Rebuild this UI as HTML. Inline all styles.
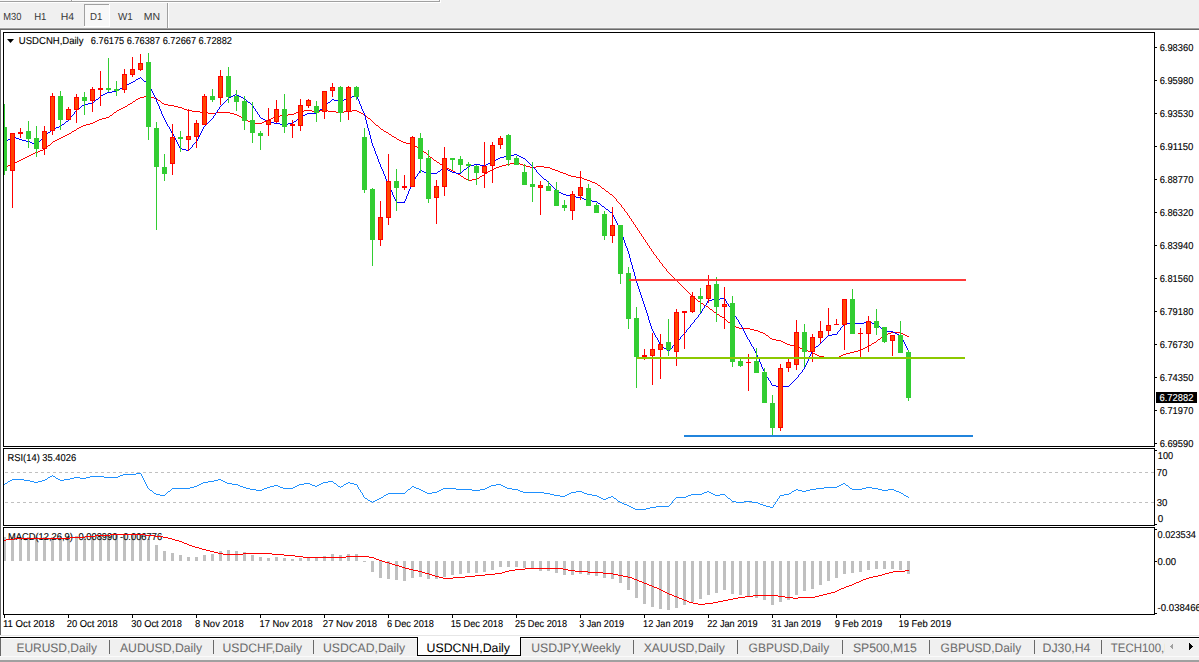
<!DOCTYPE html><html><head><meta charset="utf-8"><title>USDCNH,Daily</title><style>html,body{margin:0;padding:0;width:1199px;height:662px;overflow:hidden;background:#f0f0f0}svg{display:block}text{font-family:"Liberation Sans",sans-serif}</style></head><body><svg width="1199" height="662" viewBox="0 0 1199 662" font-family="Liberation Sans, sans-serif" text-rendering="geometricPrecision"><defs><clipPath id="cm"><rect x="4" y="33" width="1150" height="413"/></clipPath><clipPath id="cr"><rect x="4" y="449" width="1150" height="76"/></clipPath><clipPath id="cd"><rect x="4" y="528" width="1150" height="86"/></clipPath><clipPath id="tclip"><rect x="1100" y="630" width="64.5" height="30"/></clipPath></defs><g shape-rendering="crispEdges"><rect x="0" y="0" width="1199" height="662" fill="#f0f0f0"/><rect x="0" y="0" width="439" height="1" fill="#f8f8f8"/><rect x="0" y="1" width="440" height="1" fill="#a0a0a0"/><rect x="439" y="0" width="1" height="2" fill="#a0a0a0"/><rect x="0" y="2" width="441" height="1" fill="#ffffff"/><rect x="440" y="0" width="1" height="3" fill="#ffffff"/><rect x="71" y="0" width="1" height="1" fill="#a0a0a0"/><rect x="72" y="0" width="1" height="1" fill="#ffffff"/><rect x="0" y="27" width="1199" height="1" fill="#f4f4f4"/><rect x="84" y="4" width="25" height="22" fill="#f8f8f8"/><rect x="84" y="4" width="25" height="1" fill="#a0a0a0"/><rect x="84" y="4" width="1" height="22" fill="#a0a0a0"/><rect x="84" y="26" width="26" height="1" fill="#ffffff"/><rect x="109" y="4" width="1" height="23" fill="#ffffff"/><rect x="167" y="3" width="1" height="25" fill="#a0a0a0"/><rect x="168" y="3" width="1" height="25" fill="#ffffff"/><rect x="0" y="28" width="1199" height="1" fill="#a0a0a0"/><rect x="0" y="29" width="1199" height="1" fill="#696969"/><rect x="1" y="30" width="1198" height="605" fill="#ffffff"/><rect x="0" y="29" width="1" height="606" fill="#696969"/><rect x="3" y="32" width="1152" height="1" fill="#000000"/><rect x="3" y="446" width="1152" height="1" fill="#000000"/><rect x="3" y="32" width="1" height="415" fill="#000000"/><rect x="1154" y="32" width="1" height="415" fill="#000000"/><rect x="3" y="448" width="1152" height="1" fill="#000000"/><rect x="3" y="525" width="1152" height="1" fill="#000000"/><rect x="3" y="448" width="1" height="78" fill="#000000"/><rect x="1154" y="448" width="1" height="78" fill="#000000"/><rect x="3" y="527" width="1152" height="1" fill="#000000"/><rect x="3" y="614" width="1152" height="1" fill="#000000"/><rect x="3" y="527" width="1" height="88" fill="#000000"/><rect x="1154" y="527" width="1" height="88" fill="#000000"/><rect x="1155" y="47" width="2" height="1" fill="#000000"/><rect x="1155" y="80" width="2" height="1" fill="#000000"/><rect x="1155" y="113" width="2" height="1" fill="#000000"/><rect x="1155" y="146" width="2" height="1" fill="#000000"/><rect x="1155" y="179" width="2" height="1" fill="#000000"/><rect x="1155" y="212" width="2" height="1" fill="#000000"/><rect x="1155" y="245" width="2" height="1" fill="#000000"/><rect x="1155" y="278" width="2" height="1" fill="#000000"/><rect x="1155" y="311" width="2" height="1" fill="#000000"/><rect x="1155" y="344" width="2" height="1" fill="#000000"/><rect x="1155" y="377" width="2" height="1" fill="#000000"/><rect x="1155" y="410" width="2" height="1" fill="#000000"/><rect x="1155" y="443" width="2" height="1" fill="#000000"/><rect x="1156" y="392" width="41" height="11" fill="#000000"/><rect x="1155" y="450" width="2" height="1" fill="#000000"/><rect x="1155" y="524" width="2" height="1" fill="#000000"/><rect x="1155" y="529" width="2" height="1" fill="#000000"/><rect x="1155" y="561" width="2" height="1" fill="#000000"/><rect x="1155" y="613" width="2" height="1" fill="#000000"/><rect x="4" y="615" width="1" height="3" fill="#000000"/><rect x="68" y="615" width="1" height="3" fill="#000000"/><rect x="132" y="615" width="1" height="3" fill="#000000"/><rect x="196" y="615" width="1" height="3" fill="#000000"/><rect x="260" y="615" width="1" height="3" fill="#000000"/><rect x="324" y="615" width="1" height="3" fill="#000000"/><rect x="388" y="615" width="1" height="3" fill="#000000"/><rect x="452" y="615" width="1" height="3" fill="#000000"/><rect x="516" y="615" width="1" height="3" fill="#000000"/><rect x="580" y="615" width="1" height="3" fill="#000000"/><rect x="644" y="615" width="1" height="3" fill="#000000"/><rect x="708" y="615" width="1" height="3" fill="#000000"/><rect x="772" y="615" width="1" height="3" fill="#000000"/><rect x="836" y="615" width="1" height="3" fill="#000000"/><rect x="900" y="615" width="1" height="3" fill="#000000"/></g><g clip-path="url(#cm)" shape-rendering="crispEdges"><path d="M787 344h3v1h-3zM208 113h8v1h-8zM230 113h4v1h-4zM294 113h2v1h-2zM361 113h2v1h-2zM447 168h2v1h-2zM494 168h2v1h-2zM550 168h2v1h-2zM192 111h8v1h-8zM299 111h5v1h-5zM312 111h8v1h-8zM328 111h8v1h-8zM344 111h8v1h-8zM357 111h2v1h-2zM11 164h2v1h-2zM440 164h2v1h-2zM506 164h4v1h-4zM520 164h3v1h-3zM770 338h2v1h-2zM785 343h2v1h-2zM872 343h2v1h-2zM114 112h2v1h-2zM200 112h8v1h-8zM216 112h14v1h-14zM296 112h3v1h-3zM336 112h8v1h-8zM359 112h2v1h-2zM451 170h2v1h-2zM490 170h2v1h-2zM555 170h3v1h-3zM77 128h2v1h-2zM102 118h4v1h-4zM243 118h2v1h-2zM271 118h2v1h-2zM368 118h2v1h-2zM466 179h2v1h-2zM472 179h5v1h-5zM584 179h3v1h-3zM610 194h2v1h-2zM234 114h3v1h-3zM288 114h6v1h-6zM363 114h2v1h-2zM121 108h2v1h-2zM182 108h2v1h-2zM35 152h3v1h-3zM424 152h2v1h-2zM817 355h2v1h-2zM841 355h2v1h-2zM800 348h3v1h-3zM863 348h2v1h-2zM97 120h2v1h-2zM267 120h2v1h-2zM482 175h2v1h-2zM568 175h3v1h-3zM57 139h2v1h-2zM397 139h2v1h-2zM790 345h4v1h-4zM869 345h2v1h-2zM239 116h2v1h-2zM275 116h5v1h-5zM763 333h2v1h-2zM888 333h3v1h-3zM901 333h2v1h-2zM783 342h2v1h-2zM874 342h2v1h-2zM6 166h2v1h-2zM499 166h3v1h-3zM526 166h4v1h-4zM536 166h8v1h-8zM704 305h2v1h-2zM117 110h2v1h-2zM187 110h5v1h-5zM304 110h8v1h-8zM320 110h8v1h-8zM352 110h5v1h-5zM144 96h6v1h-6zM83 125h3v1h-3zM376 125h2v1h-2zM90 123h3v1h-3zM252 123h10v1h-10zM106 117h3v1h-3zM241 117h2v1h-2zM273 117h2v1h-2zM806 350h2v1h-2zM858 350h3v1h-3zM381 129h2v1h-2zM140 97h4v1h-4zM150 97h4v1h-4zM53 141h2v1h-2zM401 141h2v1h-2zM67 134h2v1h-2zM389 134h2v1h-2zM776 340h5v1h-5zM13 163h2v1h-2zM510 163h4v1h-4zM518 163h2v1h-2zM760 332h3v1h-3zM891 332h10v1h-10zM701 303h2v1h-2zM720 316h2v1h-2zM136 99h2v1h-2zM794 346h4v1h-4zM867 346h2v1h-2zM110 115h2v1h-2zM237 115h2v1h-2zM280 115h8v1h-8zM461 176h2v1h-2zM480 176h2v1h-2zM571 176h5v1h-5zM406 143h4v1h-4zM739 328h11v1h-11zM824 357h8v1h-8zM837 357h2v1h-2zM4 167h2v1h-2zM445 167h2v1h-2zM496 167h3v1h-3zM530 167h6v1h-6zM544 167h6v1h-6zM8 165h3v1h-3zM442 165h2v1h-2zM502 165h4v1h-4zM523 165h3v1h-3zM55 140h2v1h-2zM399 140h2v1h-2zM99 119h3v1h-3zM245 119h2v1h-2zM269 119h2v1h-2zM15 162h2v1h-2zM437 162h2v1h-2zM514 162h4v1h-4zM798 347h2v1h-2zM865 347h2v1h-2zM19 160h2v1h-2zM434 160h2v1h-2zM886 334h2v1h-2zM903 334h2v1h-2zM63 136h2v1h-2zM392 136h2v1h-2zM138 98h2v1h-2zM154 98h3v1h-3zM772 339h4v1h-4zM878 339h2v1h-2zM61 137h2v1h-2zM394 137h2v1h-2zM128 104h2v1h-2zM164 104h4v1h-4zM813 353h2v1h-2zM846 353h4v1h-4zM449 169h2v1h-2zM492 169h2v1h-2zM552 169h3v1h-3zM606 191h2v1h-2zM43 149h2v1h-2zM72 131h2v1h-2zM384 131h2v1h-2zM576 177h6v1h-6zM133 101h2v1h-2zM808 351h3v1h-3zM854 351h4v1h-4zM403 142h3v1h-3zM81 126h2v1h-2zM468 180h4v1h-4zM587 180h3v1h-3zM125 106h2v1h-2zM174 106h4v1h-4zM832 358h5v1h-5zM766 335h2v1h-2zM884 335h2v1h-2zM905 335h2v1h-2zM722 317h2v1h-2zM734 326h2v1h-2zM714 312h2v1h-2zM33 153h2v1h-2zM168 105h6v1h-6zM95 121h2v1h-2zM248 121h2v1h-2zM264 121h3v1h-3zM803 349h3v1h-3zM861 349h2v1h-2zM815 354h2v1h-2zM843 354h3v1h-3zM882 336h2v1h-2zM907 336h2v1h-2zM458 174h2v1h-2zM566 174h2v1h-2zM59 138h2v1h-2zM415 146h2v1h-2zM464 178h2v1h-2zM477 178h2v1h-2zM582 178h2v1h-2zM453 171h2v1h-2zM488 171h2v1h-2zM558 171h2v1h-2zM93 122h2v1h-2zM250 122h2v1h-2zM262 122h2v1h-2zM25 157h2v1h-2zM430 157h2v1h-2zM386 132h2v1h-2zM811 352h2v1h-2zM850 352h4v1h-4zM419 148h2v1h-2zM410 144h3v1h-3zM819 356h5v1h-5zM839 356h2v1h-2zM69 133h2v1h-2zM48 145h2v1h-2zM413 145h2v1h-2zM123 107h2v1h-2zM178 107h4v1h-4zM728 322h2v1h-2zM750 329h4v1h-4zM456 173h2v1h-2zM485 173h2v1h-2zM563 173h3v1h-3zM710 309h2v1h-2zM74 130h2v1h-2zM119 109h2v1h-2zM184 109h3v1h-3zM65 135h2v1h-2zM595 183h2v1h-2zM754 330h4v1h-4zM31 154h2v1h-2zM781 341h2v1h-2zM130 103h2v1h-2zM162 103h2v1h-2zM758 331h2v1h-2zM40 150h3v1h-3zM592 182h3v1h-3zM706 306h2v1h-2zM158 100h2v1h-2zM27 156h2v1h-2zM23 158h2v1h-2zM417 147h2v1h-2zM17 161h2v1h-2zM698 301h2v1h-2zM717 314h2v1h-2zM736 327h3v1h-3zM732 325h2v1h-2zM86 124h4v1h-4zM694 298h2v1h-2zM38 151h2v1h-2zM602 188h2v1h-2zM29 155h2v1h-2zM598 185h2v1h-2zM590 181h2v1h-2zM560 172h3v1h-3zM21 159h2v1h-2zM79 127h2v1h-2zM880 338h1v1h-1zM621 205h1v2h-1zM881 337h1v1h-1zM479 177h1v1h-1zM630 218h1v1h-1zM161 102h1v1h-1zM647 243h1v2h-1zM380 128h1v1h-1zM669 273h1v1h-1zM373 122h1v1h-1zM730 323h1v1h-1zM635 225h1v2h-1zM247 120h1v1h-1zM631 219h1v2h-1zM616 199h1v2h-1zM652 251h1v1h-1zM871 344h1v1h-1zM634 224h1v1h-1zM692 296h1v1h-1zM674 278h1v1h-1zM622 207h1v1h-1zM460 175h1v1h-1zM639 231h1v2h-1zM444 166h1v1h-1zM47 146h1v1h-1zM112 114h1v1h-1zM374 123h1v1h-1zM656 256h1v2h-1zM670 274h1v1h-1zM731 324h1v1h-1zM724 318h1v1h-1zM657 258h1v1h-1zM432 158h1v1h-1zM666 269h1v2h-1zM370 119h1v1h-1zM700 302h1v1h-1zM624 209h1v2h-1zM375 124h1v1h-1zM712 310h1v1h-1zM116 111h1v1h-1zM644 239h1v1h-1zM609 193h1v1h-1zM719 315h1v1h-1zM76 129h1v1h-1zM619 203h1v1h-1zM713 311h1v1h-1zM628 215h1v1h-1zM645 240h1v2h-1zM433 159h1v1h-1zM648 245h1v1h-1zM769 337h1v1h-1zM672 276h1v1h-1zM633 222h1v2h-1zM650 248h1v1h-1zM673 277h1v1h-1zM659 260h1v2h-1zM653 252h1v2h-1zM372 121h1v1h-1zM427 154h1v1h-1zM365 115h1v1h-1zM668 272h1v1h-1zM383 130h1v1h-1zM620 204h1v1h-1zM597 184h1v1h-1zM629 216h1v2h-1zM637 228h1v2h-1zM604 189h1v1h-1zM615 198h1v1h-1zM651 249h1v2h-1zM617 201h1v1h-1zM428 155h1v1h-1zM679 283h1v1h-1zM696 299h1v1h-1zM51 143h1v1h-1zM643 237h1v2h-1zM52 142h1v1h-1zM765 334h1v1h-1zM675 279h1v1h-1zM703 304h1v1h-1zM367 117h1v1h-1zM768 336h1v1h-1zM671 275h1v1h-1zM665 268h1v1h-1zM725 319h1v1h-1zM676 280h1v1h-1zM45 148h1v1h-1zM618 202h1v1h-1zM627 213h1v2h-1zM439 163h1v1h-1zM726 320h1v1h-1zM388 133h1v1h-1zM686 290h1v1h-1zM613 196h1v1h-1zM662 264h1v2h-1zM682 286h1v1h-1zM426 153h1v1h-1zM677 281h1v1h-1zM632 221h1v1h-1zM649 246h1v2h-1zM678 282h1v1h-1zM683 287h1v1h-1zM727 321h1v1h-1zM463 177h1v1h-1zM654 254h1v1h-1zM366 116h1v1h-1zM663 266h1v1h-1zM132 102h1v1h-1zM708 307h1v1h-1zM638 230h1v1h-1zM655 255h1v1h-1zM641 234h1v2h-1zM664 267h1v1h-1zM135 100h1v1h-1zM605 190h1v1h-1zM684 288h1v1h-1zM127 105h1v1h-1zM625 211h1v1h-1zM46 147h1v1h-1zM642 236h1v1h-1zM429 156h1v1h-1zM680 284h1v1h-1zM697 300h1v1h-1zM612 195h1v1h-1zM716 313h1v1h-1zM690 294h1v1h-1zM378 126h1v1h-1zM484 174h1v1h-1zM626 212h1v1h-1zM50 144h1v1h-1zM436 161h1v1h-1zM681 285h1v1h-1zM379 127h1v1h-1zM157 99h1v1h-1zM876 341h1v1h-1zM423 151h1v1h-1zM660 262h1v1h-1zM691 295h1v1h-1zM600 186h1v1h-1zM487 172h1v1h-1zM661 263h1v1h-1zM687 291h1v1h-1zM614 197h1v1h-1zM636 227h1v1h-1zM71 132h1v1h-1zM109 116h1v1h-1zM688 292h1v1h-1zM623 208h1v1h-1zM601 187h1v1h-1zM113 113h1v1h-1zM640 233h1v1h-1zM396 138h1v1h-1zM608 192h1v1h-1zM693 297h1v1h-1zM709 308h1v1h-1zM455 172h1v1h-1zM421 149h1v1h-1zM689 293h1v1h-1zM685 289h1v1h-1zM391 135h1v1h-1zM422 150h1v1h-1zM877 340h1v1h-1zM658 259h1v1h-1zM667 271h1v1h-1zM371 120h1v1h-1zM160 101h1v1h-1zM646 242h1v1h-1z" fill="#ff0000"/><path d="M828 335h4v1h-4zM899 335h2v1h-2zM844 323h20v1h-20zM872 323h5v1h-5zM576 197h6v1h-6zM470 165h4v1h-4zM480 165h6v1h-6zM488 163h3v1h-3zM32 143h3v1h-3zM107 92h5v1h-5zM864 322h8v1h-8zM307 113h10v1h-10zM832 334h5v1h-5zM897 334h2v1h-2zM16 138h3v1h-3zM592 201h5v1h-5zM96 99h2v1h-2zM332 99h2v1h-2zM344 99h3v1h-3zM243 98h2v1h-2zM347 98h3v1h-3zM776 386h13v1h-13zM8 139h2v1h-2zM19 139h3v1h-3zM138 78h2v1h-2zM125 85h2v1h-2zM884 331h9v1h-9zM129 83h2v1h-2zM117 90h2v1h-2zM500 157h4v1h-4zM521 157h2v1h-2zM270 122h4v1h-4zM544 179h2v1h-2zM101 95h2v1h-2zM233 95h2v1h-2zM237 95h2v1h-2zM355 95h2v1h-2zM120 88h2v1h-2zM893 332h2v1h-2zM301 116h2v1h-2zM22 140h4v1h-4zM105 93h2v1h-2zM498 158h2v1h-2zM523 158h2v1h-2zM514 154h3v1h-3zM231 96h2v1h-2zM239 96h2v1h-2zM352 96h3v1h-3zM496 159h2v1h-2zM720 298h5v1h-5zM229 97h2v1h-2zM241 97h2v1h-2zM350 97h2v1h-2zM14 137h2v1h-2zM305 114h2v1h-2zM557 191h2v1h-2zM570 196h6v1h-6zM59 126h2v1h-2zM12 136h2v1h-2zM320 109h2v1h-2zM493 161h2v1h-2zM274 123h6v1h-6zM288 123h5v1h-5zM136 79h2v1h-2zM424 172h3v1h-3zM452 172h4v1h-4zM491 162h2v1h-2zM338 101h4v1h-4zM265 120h2v1h-2zM664 348h2v1h-2zM334 100h4v1h-4zM342 100h2v1h-2zM427 173h10v1h-10zM456 173h5v1h-5zM26 141h4v1h-4zM82 105h2v1h-2zM122 87h2v1h-2zM510 155h4v1h-4zM517 155h2v1h-2zM712 299h8v1h-8zM772 385h4v1h-4zM582 198h2v1h-2zM563 194h3v1h-3zM78 108h2v1h-2zM442 168h2v1h-2zM445 168h2v1h-2zM182 149h4v1h-4zM88 103h5v1h-5zM561 193h2v1h-2zM584 199h3v1h-3zM566 195h4v1h-4zM474 164h6v1h-6zM486 164h2v1h-2zM559 192h2v1h-2zM62 124h2v1h-2zM280 124h8v1h-8zM248 102h2v1h-2zM328 102h2v1h-2zM56 127h3v1h-3zM587 200h5v1h-5zM708 300h4v1h-4zM112 91h5v1h-5zM396 202h9v1h-9zM468 166h2v1h-2zM464 169h2v1h-2zM420 170h2v1h-2zM448 170h2v1h-2zM66 121h2v1h-2zM267 121h3v1h-3zM294 121h2v1h-2zM816 346h2v1h-2zM895 333h2v1h-2zM422 171h2v1h-2zM438 171h2v1h-2zM450 171h2v1h-2zM52 129h2v1h-2zM48 132h2v1h-2zM84 104h4v1h-4zM127 84h2v1h-2zM35 144h2v1h-2zM261 118h2v1h-2zM298 118h2v1h-2zM504 156h6v1h-6zM519 156h2v1h-2zM180 148h2v1h-2zM303 115h2v1h-2zM263 119h2v1h-2zM133 81h2v1h-2zM144 81h2v1h-2zM30 142h2v1h-2zM610 212h2v1h-2zM186 150h3v1h-3zM54 128h2v1h-2zM606 209h2v1h-2zM131 82h2v1h-2zM103 94h2v1h-2zM235 94h2v1h-2zM602 206h2v1h-2zM598 203h2v1h-2zM160 109h1v2h-1zM818 345h1v1h-1zM682 335h1v1h-1zM798 375h1v2h-1zM394 197h1v2h-1zM757 355h1v2h-1zM369 131h1v4h-1zM698 315h1v2h-1zM379 162h1v2h-1zM624 240h1v3h-1zM37 143h1v1h-1zM300 117h1v1h-1zM217 110h1v2h-1zM362 109h1v2h-1zM202 129h1v2h-1zM645 307h1v3h-1zM549 183h1v1h-1zM404 201h1v1h-1zM156 99h1v3h-1zM638 286h1v3h-1zM693 322h1v1h-1zM357 97h1v2h-1zM385 176h1v3h-1zM550 184h1v1h-1zM702 309h1v2h-1zM838 331h1v1h-1zM705 305h1v1h-1zM375 151h1v3h-1zM690 325h1v2h-1zM634 272h1v4h-1zM358 99h1v2h-1zM738 320h1v2h-1zM386 179h1v2h-1zM213 116h1v2h-1zM150 87h1v2h-1zM685 332h1v1h-1zM810 354h1v2h-1zM163 116h1v2h-1zM153 93h1v2h-1zM905 344h1v2h-1zM100 96h1v1h-1zM760 362h1v2h-1zM46 134h1v1h-1zM609 211h1v1h-1zM412 182h1v2h-1zM617 223h1v2h-1zM655 335h1v2h-1zM620 229h1v3h-1zM364 113h1v3h-1zM630 258h1v4h-1zM393 195h1v2h-1zM701 311h1v2h-1zM658 340h1v2h-1zM259 115h1v2h-1zM220 106h1v1h-1zM631 262h1v3h-1zM902 338h1v2h-1zM659 342h1v2h-1zM197 139h1v2h-1zM44 136h1v1h-1zM255 109h1v2h-1zM809 356h1v2h-1zM378 159h1v3h-1zM623 237h1v3h-1zM64 123h1v1h-1zM178 144h1v2h-1zM142 79h1v1h-1zM371 139h1v4h-1zM841 327h1v1h-1zM537 172h1v1h-1zM247 101h1v1h-1zM677 341h1v1h-1zM152 91h1v2h-1zM68 120h1v1h-1zM822 341h1v1h-1zM768 378h1v2h-1zM538 173h1v1h-1zM793 381h1v1h-1zM666 349h1v1h-1zM790 384h1v1h-1zM149 85h1v2h-1zM901 336h1v2h-1zM10 138h1v1h-1zM461 172h1v1h-1zM669 350h1v1h-1zM396 201h1v1h-1zM368 128h1v3h-1zM904 342h1v2h-1zM254 108h1v1h-1zM189 149h1v1h-1zM556 190h1v1h-1zM616 221h1v2h-1zM76 110h1v1h-1zM408 191h1v3h-1zM141 78h1v1h-1zM654 333h1v2h-1zM322 108h1v1h-1zM258 114h1v1h-1zM647 313h1v3h-1zM361 106h1v3h-1zM530 164h1v1h-1zM878 325h1v1h-1zM208 122h1v1h-1zM367 124h1v4h-1zM177 142h1v2h-1zM879 326h1v1h-1zM753 347h1v2h-1zM771 383h1v2h-1zM604 207h1v1h-1zM651 326h1v3h-1zM41 139h1v1h-1zM388 183h1v3h-1zM224 102h1v1h-1zM633 269h1v3h-1zM151 89h1v2h-1zM605 208h1v1h-1zM767 377h1v1h-1zM192 145h1v2h-1zM629 254h1v4h-1zM216 112h1v1h-1zM813 349h1v1h-1zM374 148h1v3h-1zM619 227h1v2h-1zM392 192h1v3h-1zM657 338h1v2h-1zM395 199h1v2h-1zM415 177h1v2h-1zM672 346h1v2h-1zM159 106h1v3h-1zM837 332h1v2h-1zM615 219h1v2h-1zM704 306h1v2h-1zM653 331h1v2h-1zM756 353h1v2h-1zM661 345h1v1h-1zM646 310h1v3h-1zM495 160h1v1h-1zM766 375h1v2h-1zM639 289h1v3h-1zM71 116h1v1h-1zM155 97h1v2h-1zM749 340h1v2h-1zM411 184h1v2h-1zM770 381h1v2h-1zM326 104h1v1h-1zM632 265h1v4h-1zM219 107h1v2h-1zM763 369h1v2h-1zM684 333h1v1h-1zM148 84h1v1h-1zM407 194h1v2h-1zM203 127h1v2h-1zM643 301h1v3h-1zM808 358h1v3h-1zM618 225h1v2h-1zM797 377h1v1h-1zM800 373h1v1h-1zM410 186h1v3h-1zM363 111h1v2h-1zM679 339h1v1h-1zM257 112h1v2h-1zM759 359h1v3h-1zM824 339h1v1h-1zM600 204h1v1h-1zM660 344h1v1h-1zM260 117h1v1h-1zM179 146h1v2h-1zM840 328h1v2h-1zM755 351h1v2h-1zM74 112h1v2h-1zM692 323h1v1h-1zM612 213h1v2h-1zM377 156h1v3h-1zM745 333h1v2h-1zM212 118h1v1h-1zM360 104h1v2h-1zM215 113h1v2h-1zM154 95h1v2h-1zM370 135h1v4h-1zM330 101h1v1h-1zM687 329h1v1h-1zM812 350h1v2h-1zM173 134h1v2h-1zM5 142h1v1h-1zM551 185h1v1h-1zM622 235h1v2h-1zM762 367h1v2h-1zM198 137h1v2h-1zM384 174h1v2h-1zM649 320h1v3h-1zM540 175h1v1h-1zM93 102h1v1h-1zM373 146h1v2h-1zM700 313h1v1h-1zM210 120h1v1h-1zM642 298h1v3h-1zM317 112h1v1h-1zM525 159h1v1h-1zM418 173h1v1h-1zM635 276h1v4h-1zM161 111h1v3h-1zM43 137h1v1h-1zM843 324h1v2h-1zM406 196h1v3h-1zM758 357h1v2h-1zM656 337h1v1h-1zM70 117h1v2h-1zM695 319h1v1h-1zM380 164h1v3h-1zM707 301h1v2h-1zM143 80h1v1h-1zM676 342h1v1h-1zM751 344h1v2h-1zM391 190h1v2h-1zM176 140h1v2h-1zM158 104h1v2h-1zM293 122h1v1h-1zM532 166h1v1h-1zM752 346h1v1h-1zM792 382h1v1h-1zM815 347h1v1h-1zM366 120h1v4h-1zM807 361h1v2h-1zM437 172h1v1h-1zM409 189h1v2h-1zM744 331h1v2h-1zM671 348h1v1h-1zM674 344h1v1h-1zM191 147h1v1h-1zM765 373h1v2h-1zM726 301h1v2h-1zM169 127h1v2h-1zM769 380h1v1h-1zM441 169h1v1h-1zM539 174h1v1h-1zM172 133h1v1h-1zM667 350h1v1h-1zM414 179h1v1h-1zM383 171h1v3h-1zM628 251h1v3h-1zM648 316h1v4h-1zM165 120h1v2h-1zM50 131h1v1h-1zM135 80h1v1h-1zM907 348h1v2h-1zM641 295h1v3h-1zM73 114h1v1h-1zM207 123h1v1h-1zM614 217h1v2h-1zM754 349h1v2h-1zM652 329h1v2h-1zM747 337h1v2h-1zM686 330h1v2h-1zM390 188h1v2h-1zM750 342h1v2h-1zM463 170h1v1h-1zM194 143h1v1h-1zM175 138h1v2h-1zM764 371h1v2h-1zM467 167h1v1h-1zM621 232h1v3h-1zM365 116h1v4h-1zM218 109h1v1h-1zM761 364h1v3h-1zM417 174h1v2h-1zM819 344h1v1h-1zM725 299h1v2h-1zM733 312h1v2h-1zM168 126h1v1h-1zM627 248h1v3h-1zM736 317h1v2h-1zM694 320h1v2h-1zM729 306h1v1h-1zM372 143h1v3h-1zM226 100h1v1h-1zM80 107h1v1h-1zM811 352h1v2h-1zM531 165h1v1h-1zM613 215h1v2h-1zM157 102h1v2h-1zM880 327h1v1h-1zM746 335h1v2h-1zM205 125h1v1h-1zM319 110h1v1h-1zM663 347h1v1h-1zM171 131h1v2h-1zM644 304h1v3h-1zM297 119h1v1h-1zM802 370h1v2h-1zM245 99h1v1h-1zM728 304h1v2h-1zM637 283h1v3h-1zM38 142h1v1h-1zM799 374h1v1h-1zM826 337h1v1h-1zM743 329h1v2h-1zM61 125h1v1h-1zM164 118h1v2h-1zM732 311h1v1h-1zM678 340h1v1h-1zM405 199h1v2h-1zM201 131h1v2h-1zM806 363h1v2h-1zM706 303h1v2h-1zM119 89h1v1h-1zM662 346h1v1h-1zM689 327h1v1h-1zM546 180h1v1h-1zM601 205h1v1h-1zM7 140h1v1h-1zM174 136h1v2h-1zM413 180h1v2h-1zM95 100h1v1h-1zM323 107h1v1h-1zM11 137h1v1h-1zM167 124h1v2h-1zM670 349h1v1h-1zM221 105h1v1h-1zM552 186h1v1h-1zM170 129h1v2h-1zM99 97h1v1h-1zM45 135h1v1h-1zM553 187h1v1h-1zM65 122h1v1h-1zM739 322h1v2h-1zM731 309h1v2h-1zM697 317h1v1h-1zM842 326h1v1h-1zM906 346h1v2h-1zM447 169h1v1h-1zM527 161h1v1h-1zM382 169h1v2h-1zM794 380h1v1h-1zM640 292h1v3h-1zM821 342h1v1h-1zM462 171h1v1h-1zM389 186h1v2h-1zM673 345h1v1h-1zM814 348h1v1h-1zM228 98h1v1h-1zM166 122h1v2h-1zM734 314h1v2h-1zM742 327h1v2h-1zM416 176h1v1h-1zM805 365h1v2h-1zM209 121h1v1h-1zM541 176h1v1h-1zM681 336h1v1h-1zM72 115h1v1h-1zM735 316h1v1h-1zM727 303h1v1h-1zM327 103h1v1h-1zM597 202h1v1h-1zM526 160h1v1h-1zM626 246h1v2h-1zM250 103h1v1h-1zM381 167h1v2h-1zM196 141h1v1h-1zM251 104h1v1h-1zM40 140h1v1h-1zM193 144h1v1h-1zM533 167h1v1h-1zM650 323h1v3h-1zM748 339h1v1h-1zM200 133h1v2h-1zM296 120h1v1h-1zM419 171h1v2h-1zM534 168h1v1h-1zM882 329h1v1h-1zM789 385h1v1h-1zM730 307h1v2h-1zM741 325h1v2h-1zM636 280h1v3h-1zM668 351h1v1h-1zM908 350h1v1h-1zM75 111h1v1h-1zM703 308h1v1h-1zM625 243h1v3h-1zM223 103h1v1h-1zM608 210h1v1h-1zM204 126h1v1h-1zM47 133h1v1h-1zM801 372h1v1h-1zM94 101h1v1h-1zM548 182h1v1h-1zM680 337h1v2h-1zM359 101h1v3h-1zM881 328h1v1h-1zM825 338h1v1h-1zM796 378h1v1h-1zM246 100h1v1h-1zM696 318h1v1h-1zM737 319h1v1h-1zM162 114h1v2h-1zM688 328h1v1h-1zM691 324h1v1h-1zM6 141h1v1h-1zM325 105h1v1h-1zM253 106h1v2h-1zM199 135h1v2h-1zM804 367h1v2h-1zM51 130h1v1h-1zM211 119h1v1h-1zM140 77h1v1h-1zM683 334h1v1h-1zM318 111h1v1h-1zM547 181h1v1h-1zM98 98h1v1h-1zM536 170h1v2h-1zM227 99h1v1h-1zM699 314h1v1h-1zM740 324h1v1h-1zM376 154h1v2h-1zM839 330h1v1h-1zM356 96h1v1h-1zM554 188h1v1h-1zM903 340h1v2h-1zM555 189h1v1h-1zM675 343h1v1h-1zM820 343h1v1h-1zM214 115h1v1h-1zM528 162h1v1h-1zM791 383h1v1h-1zM529 163h1v1h-1zM440 170h1v1h-1zM4 143h1v1h-1zM387 181h1v2h-1zM69 119h1v1h-1zM823 340h1v1h-1zM206 124h1v1h-1zM42 138h1v1h-1zM542 177h1v1h-1zM195 142h1v1h-1zM147 83h1v1h-1zM39 141h1v1h-1zM543 178h1v1h-1zM252 105h1v1h-1zM222 104h1v1h-1zM190 148h1v1h-1zM77 109h1v1h-1zM256 111h1v1h-1zM466 168h1v1h-1zM877 324h1v1h-1zM81 106h1v1h-1zM124 86h1v1h-1zM444 167h1v1h-1zM795 379h1v1h-1zM535 169h1v1h-1zM883 330h1v1h-1zM225 101h1v1h-1zM331 100h1v1h-1zM146 82h1v1h-1zM324 106h1v1h-1zM803 369h1v1h-1zM827 336h1v1h-1z" fill="#0000ff"/><rect x="4" y="104" width="1" height="71" fill="#32cd32"/><rect x="2" y="127" width="5" height="44" fill="#32cd32"/><rect x="12" y="133" width="1" height="75" fill="#ff0000"/><rect x="10" y="133" width="5" height="38" fill="#ff0000"/><rect x="11" y="134" width="3" height="36" fill="#ff4500"/><rect x="20" y="128" width="1" height="10" fill="#ff0000"/><rect x="18" y="132" width="5" height="2" fill="#ff0000"/><rect x="28" y="121" width="1" height="27" fill="#32cd32"/><rect x="26" y="131" width="5" height="8" fill="#32cd32"/><rect x="36" y="126" width="1" height="31" fill="#32cd32"/><rect x="34" y="138" width="5" height="11" fill="#32cd32"/><rect x="44" y="126" width="1" height="29" fill="#ff0000"/><rect x="42" y="131" width="5" height="18" fill="#ff0000"/><rect x="43" y="132" width="3" height="16" fill="#ff4500"/><rect x="52" y="93" width="1" height="42" fill="#ff0000"/><rect x="50" y="96" width="5" height="35" fill="#ff0000"/><rect x="51" y="97" width="3" height="33" fill="#ff4500"/><rect x="60" y="91" width="1" height="39" fill="#32cd32"/><rect x="58" y="96" width="5" height="24" fill="#32cd32"/><rect x="68" y="107" width="1" height="13" fill="#ff0000"/><rect x="66" y="109" width="5" height="11" fill="#ff0000"/><rect x="67" y="110" width="3" height="9" fill="#ff4500"/><rect x="76" y="94" width="1" height="29" fill="#ff0000"/><rect x="74" y="97" width="5" height="13" fill="#ff0000"/><rect x="75" y="98" width="3" height="11" fill="#ff4500"/><rect x="84" y="92" width="1" height="23" fill="#32cd32"/><rect x="82" y="97" width="5" height="4" fill="#32cd32"/><rect x="92" y="87" width="1" height="25" fill="#ff0000"/><rect x="90" y="89" width="5" height="12" fill="#ff0000"/><rect x="91" y="90" width="3" height="10" fill="#ff4500"/><rect x="100" y="71" width="1" height="35" fill="#ff0000"/><rect x="98" y="88" width="5" height="2" fill="#ff0000"/><rect x="108" y="58" width="1" height="34" fill="#32cd32"/><rect x="106" y="88" width="5" height="2" fill="#32cd32"/><rect x="116" y="81" width="1" height="15" fill="#32cd32"/><rect x="114" y="89" width="5" height="2" fill="#32cd32"/><rect x="124" y="69" width="1" height="24" fill="#ff0000"/><rect x="122" y="74" width="5" height="16" fill="#ff0000"/><rect x="123" y="75" width="3" height="14" fill="#ff4500"/><rect x="132" y="57" width="1" height="20" fill="#ff0000"/><rect x="130" y="69" width="5" height="6" fill="#ff0000"/><rect x="131" y="70" width="3" height="4" fill="#ff4500"/><rect x="140" y="54" width="1" height="17" fill="#ff0000"/><rect x="138" y="63" width="5" height="7" fill="#ff0000"/><rect x="139" y="64" width="3" height="5" fill="#ff4500"/><rect x="148" y="53" width="1" height="87" fill="#32cd32"/><rect x="146" y="62" width="5" height="65" fill="#32cd32"/><rect x="156" y="122" width="1" height="108" fill="#32cd32"/><rect x="154" y="128" width="5" height="39" fill="#32cd32"/><rect x="164" y="154" width="1" height="27" fill="#32cd32"/><rect x="162" y="167" width="5" height="7" fill="#32cd32"/><rect x="172" y="124" width="1" height="51" fill="#ff0000"/><rect x="170" y="137" width="5" height="27" fill="#ff0000"/><rect x="171" y="138" width="3" height="25" fill="#ff4500"/><rect x="180" y="131" width="1" height="21" fill="#32cd32"/><rect x="178" y="137" width="5" height="2" fill="#32cd32"/><rect x="188" y="109" width="1" height="42" fill="#ff0000"/><rect x="186" y="136" width="5" height="4" fill="#ff0000"/><rect x="187" y="137" width="3" height="2" fill="#ff4500"/><rect x="196" y="120" width="1" height="28" fill="#ff0000"/><rect x="194" y="123" width="5" height="14" fill="#ff0000"/><rect x="195" y="124" width="3" height="12" fill="#ff4500"/><rect x="204" y="94" width="1" height="31" fill="#ff0000"/><rect x="202" y="96" width="5" height="29" fill="#ff0000"/><rect x="203" y="97" width="3" height="27" fill="#ff4500"/><rect x="212" y="89" width="1" height="13" fill="#32cd32"/><rect x="210" y="96" width="5" height="4" fill="#32cd32"/><rect x="220" y="70" width="1" height="35" fill="#ff0000"/><rect x="218" y="76" width="5" height="22" fill="#ff0000"/><rect x="219" y="77" width="3" height="20" fill="#ff4500"/><rect x="228" y="67" width="1" height="36" fill="#32cd32"/><rect x="226" y="76" width="5" height="21" fill="#32cd32"/><rect x="236" y="90" width="1" height="21" fill="#32cd32"/><rect x="234" y="96" width="5" height="6" fill="#32cd32"/><rect x="244" y="96" width="1" height="34" fill="#32cd32"/><rect x="242" y="101" width="5" height="20" fill="#32cd32"/><rect x="252" y="102" width="1" height="41" fill="#32cd32"/><rect x="250" y="120" width="5" height="13" fill="#32cd32"/><rect x="260" y="131" width="1" height="19" fill="#32cd32"/><rect x="258" y="133" width="5" height="3" fill="#32cd32"/><rect x="268" y="108" width="1" height="28" fill="#ff0000"/><rect x="266" y="120" width="5" height="5" fill="#ff0000"/><rect x="267" y="121" width="3" height="3" fill="#ff4500"/><rect x="276" y="100" width="1" height="23" fill="#ff0000"/><rect x="274" y="109" width="5" height="13" fill="#ff0000"/><rect x="275" y="110" width="3" height="11" fill="#ff4500"/><rect x="284" y="94" width="1" height="39" fill="#32cd32"/><rect x="282" y="109" width="5" height="18" fill="#32cd32"/><rect x="292" y="120" width="1" height="18" fill="#ff0000"/><rect x="290" y="124" width="5" height="2" fill="#ff0000"/><rect x="300" y="99" width="1" height="32" fill="#ff0000"/><rect x="298" y="105" width="5" height="21" fill="#ff0000"/><rect x="299" y="106" width="3" height="19" fill="#ff4500"/><rect x="308" y="99" width="1" height="9" fill="#ff0000"/><rect x="306" y="100" width="5" height="6" fill="#ff0000"/><rect x="307" y="101" width="3" height="4" fill="#ff4500"/><rect x="316" y="101" width="1" height="21" fill="#32cd32"/><rect x="314" y="106" width="5" height="7" fill="#32cd32"/><rect x="324" y="91" width="1" height="28" fill="#ff0000"/><rect x="322" y="91" width="5" height="21" fill="#ff0000"/><rect x="323" y="92" width="3" height="19" fill="#ff4500"/><rect x="332" y="83" width="1" height="14" fill="#ff0000"/><rect x="330" y="87" width="5" height="4" fill="#ff0000"/><rect x="331" y="88" width="3" height="2" fill="#ff4500"/><rect x="340" y="86" width="1" height="36" fill="#32cd32"/><rect x="338" y="87" width="5" height="26" fill="#32cd32"/><rect x="348" y="86" width="1" height="34" fill="#ff0000"/><rect x="346" y="87" width="5" height="25" fill="#ff0000"/><rect x="347" y="88" width="3" height="23" fill="#ff4500"/><rect x="356" y="86" width="1" height="14" fill="#32cd32"/><rect x="354" y="87" width="5" height="10" fill="#32cd32"/><rect x="364" y="128" width="1" height="65" fill="#32cd32"/><rect x="362" y="137" width="5" height="53" fill="#32cd32"/><rect x="372" y="188" width="1" height="78" fill="#32cd32"/><rect x="370" y="189" width="5" height="51" fill="#32cd32"/><rect x="380" y="201" width="1" height="45" fill="#ff0000"/><rect x="378" y="217" width="5" height="23" fill="#ff0000"/><rect x="379" y="218" width="3" height="21" fill="#ff4500"/><rect x="388" y="154" width="1" height="71" fill="#ff0000"/><rect x="386" y="181" width="5" height="37" fill="#ff0000"/><rect x="387" y="182" width="3" height="35" fill="#ff4500"/><rect x="396" y="169" width="1" height="42" fill="#32cd32"/><rect x="394" y="181" width="5" height="7" fill="#32cd32"/><rect x="404" y="175" width="1" height="15" fill="#ff0000"/><rect x="402" y="186" width="5" height="2" fill="#ff0000"/><rect x="412" y="136" width="1" height="51" fill="#ff0000"/><rect x="410" y="137" width="5" height="50" fill="#ff0000"/><rect x="411" y="138" width="3" height="48" fill="#ff4500"/><rect x="420" y="133" width="1" height="40" fill="#32cd32"/><rect x="418" y="138" width="5" height="21" fill="#32cd32"/><rect x="428" y="150" width="1" height="53" fill="#32cd32"/><rect x="426" y="158" width="5" height="41" fill="#32cd32"/><rect x="436" y="180" width="1" height="44" fill="#ff0000"/><rect x="434" y="186" width="5" height="12" fill="#ff0000"/><rect x="435" y="187" width="3" height="10" fill="#ff4500"/><rect x="444" y="147" width="1" height="49" fill="#ff0000"/><rect x="442" y="158" width="5" height="29" fill="#ff0000"/><rect x="443" y="159" width="3" height="27" fill="#ff4500"/><rect x="452" y="158" width="1" height="12" fill="#32cd32"/><rect x="450" y="158" width="5" height="2" fill="#32cd32"/><rect x="460" y="156" width="1" height="17" fill="#32cd32"/><rect x="458" y="159" width="5" height="6" fill="#32cd32"/><rect x="468" y="162" width="1" height="19" fill="#32cd32"/><rect x="466" y="164" width="5" height="2" fill="#32cd32"/><rect x="476" y="165" width="1" height="20" fill="#32cd32"/><rect x="474" y="166" width="5" height="7" fill="#32cd32"/><rect x="484" y="142" width="1" height="46" fill="#ff0000"/><rect x="482" y="166" width="5" height="7" fill="#ff0000"/><rect x="483" y="167" width="3" height="5" fill="#ff4500"/><rect x="492" y="142" width="1" height="41" fill="#ff0000"/><rect x="490" y="145" width="5" height="21" fill="#ff0000"/><rect x="491" y="146" width="3" height="19" fill="#ff4500"/><rect x="500" y="136" width="1" height="13" fill="#ff0000"/><rect x="498" y="138" width="5" height="7" fill="#ff0000"/><rect x="499" y="139" width="3" height="5" fill="#ff4500"/><rect x="508" y="134" width="1" height="32" fill="#32cd32"/><rect x="506" y="135" width="5" height="25" fill="#32cd32"/><rect x="516" y="156" width="1" height="9" fill="#32cd32"/><rect x="514" y="158" width="5" height="7" fill="#32cd32"/><rect x="524" y="164" width="1" height="21" fill="#32cd32"/><rect x="522" y="172" width="5" height="13" fill="#32cd32"/><rect x="532" y="162" width="1" height="40" fill="#32cd32"/><rect x="530" y="184" width="5" height="3" fill="#32cd32"/><rect x="540" y="181" width="1" height="34" fill="#ff0000"/><rect x="538" y="185" width="5" height="3" fill="#ff0000"/><rect x="539" y="186" width="3" height="1" fill="#ff4500"/><rect x="548" y="181" width="1" height="10" fill="#32cd32"/><rect x="546" y="186" width="5" height="5" fill="#32cd32"/><rect x="556" y="182" width="1" height="24" fill="#32cd32"/><rect x="554" y="190" width="5" height="16" fill="#32cd32"/><rect x="564" y="200" width="1" height="11" fill="#32cd32"/><rect x="562" y="205" width="5" height="3" fill="#32cd32"/><rect x="572" y="191" width="1" height="29" fill="#ff0000"/><rect x="570" y="194" width="5" height="17" fill="#ff0000"/><rect x="571" y="195" width="3" height="15" fill="#ff4500"/><rect x="580" y="171" width="1" height="29" fill="#ff0000"/><rect x="578" y="187" width="5" height="9" fill="#ff0000"/><rect x="579" y="188" width="3" height="7" fill="#ff4500"/><rect x="588" y="184" width="1" height="22" fill="#32cd32"/><rect x="586" y="188" width="5" height="18" fill="#32cd32"/><rect x="596" y="203" width="1" height="10" fill="#32cd32"/><rect x="594" y="205" width="5" height="8" fill="#32cd32"/><rect x="604" y="211" width="1" height="29" fill="#32cd32"/><rect x="602" y="214" width="5" height="22" fill="#32cd32"/><rect x="612" y="207" width="1" height="36" fill="#ff0000"/><rect x="610" y="225" width="5" height="11" fill="#ff0000"/><rect x="611" y="226" width="3" height="9" fill="#ff4500"/><rect x="620" y="225" width="1" height="59" fill="#32cd32"/><rect x="618" y="225" width="5" height="49" fill="#32cd32"/><rect x="628" y="267" width="1" height="62" fill="#32cd32"/><rect x="626" y="273" width="5" height="46" fill="#32cd32"/><rect x="636" y="307" width="1" height="81" fill="#32cd32"/><rect x="634" y="318" width="5" height="39" fill="#32cd32"/><rect x="644" y="349" width="1" height="11" fill="#ff0000"/><rect x="642" y="355" width="5" height="2" fill="#ff0000"/><rect x="652" y="333" width="1" height="52" fill="#ff0000"/><rect x="650" y="349" width="5" height="7" fill="#ff0000"/><rect x="651" y="350" width="3" height="5" fill="#ff4500"/><rect x="660" y="334" width="1" height="45" fill="#ff0000"/><rect x="658" y="344" width="5" height="6" fill="#ff0000"/><rect x="659" y="345" width="3" height="4" fill="#ff4500"/><rect x="668" y="319" width="1" height="37" fill="#32cd32"/><rect x="666" y="342" width="5" height="8" fill="#32cd32"/><rect x="676" y="309" width="1" height="57" fill="#ff0000"/><rect x="674" y="312" width="5" height="40" fill="#ff0000"/><rect x="675" y="313" width="3" height="38" fill="#ff4500"/><rect x="684" y="311" width="1" height="38" fill="#ff0000"/><rect x="682" y="311" width="5" height="2" fill="#ff0000"/><rect x="692" y="292" width="1" height="21" fill="#ff0000"/><rect x="690" y="296" width="5" height="16" fill="#ff0000"/><rect x="691" y="297" width="3" height="14" fill="#ff4500"/><rect x="700" y="288" width="1" height="25" fill="#32cd32"/><rect x="698" y="296" width="5" height="3" fill="#32cd32"/><rect x="708" y="275" width="1" height="28" fill="#ff0000"/><rect x="706" y="285" width="5" height="14" fill="#ff0000"/><rect x="707" y="286" width="3" height="12" fill="#ff4500"/><rect x="716" y="277" width="1" height="45" fill="#32cd32"/><rect x="714" y="284" width="5" height="23" fill="#32cd32"/><rect x="724" y="287" width="1" height="42" fill="#ff0000"/><rect x="722" y="304" width="5" height="3" fill="#ff0000"/><rect x="723" y="305" width="3" height="1" fill="#ff4500"/><rect x="732" y="296" width="1" height="71" fill="#32cd32"/><rect x="730" y="303" width="5" height="59" fill="#32cd32"/><rect x="740" y="359" width="1" height="8" fill="#32cd32"/><rect x="738" y="361" width="5" height="5" fill="#32cd32"/><rect x="748" y="354" width="1" height="37" fill="#ff0000"/><rect x="746" y="362" width="5" height="1" fill="#ff0000"/><rect x="756" y="348" width="1" height="25" fill="#32cd32"/><rect x="754" y="361" width="5" height="12" fill="#32cd32"/><rect x="764" y="368" width="1" height="35" fill="#32cd32"/><rect x="762" y="372" width="5" height="31" fill="#32cd32"/><rect x="772" y="395" width="1" height="40" fill="#32cd32"/><rect x="770" y="403" width="5" height="25" fill="#32cd32"/><rect x="780" y="364" width="1" height="67" fill="#ff0000"/><rect x="778" y="368" width="5" height="60" fill="#ff0000"/><rect x="779" y="369" width="3" height="58" fill="#ff4500"/><rect x="788" y="359" width="1" height="13" fill="#ff0000"/><rect x="786" y="362" width="5" height="6" fill="#ff0000"/><rect x="787" y="363" width="3" height="4" fill="#ff4500"/><rect x="796" y="320" width="1" height="50" fill="#ff0000"/><rect x="794" y="332" width="5" height="33" fill="#ff0000"/><rect x="795" y="333" width="3" height="31" fill="#ff4500"/><rect x="804" y="324" width="1" height="43" fill="#32cd32"/><rect x="802" y="332" width="5" height="20" fill="#32cd32"/><rect x="812" y="334" width="1" height="28" fill="#ff0000"/><rect x="810" y="337" width="5" height="15" fill="#ff0000"/><rect x="811" y="338" width="3" height="13" fill="#ff4500"/><rect x="820" y="321" width="1" height="22" fill="#ff0000"/><rect x="818" y="331" width="5" height="7" fill="#ff0000"/><rect x="819" y="332" width="3" height="5" fill="#ff4500"/><rect x="828" y="308" width="1" height="27" fill="#ff0000"/><rect x="826" y="325" width="5" height="6" fill="#ff0000"/><rect x="827" y="326" width="3" height="4" fill="#ff4500"/><rect x="836" y="319" width="1" height="6" fill="#ff0000"/><rect x="834" y="324" width="5" height="1" fill="#ff0000"/><rect x="844" y="299" width="1" height="51" fill="#ff0000"/><rect x="842" y="299" width="5" height="26" fill="#ff0000"/><rect x="843" y="300" width="3" height="24" fill="#ff4500"/><rect x="852" y="289" width="1" height="45" fill="#32cd32"/><rect x="850" y="299" width="5" height="35" fill="#32cd32"/><rect x="860" y="328" width="1" height="29" fill="#ff0000"/><rect x="858" y="333" width="5" height="1" fill="#ff0000"/><rect x="868" y="316" width="1" height="36" fill="#ff0000"/><rect x="866" y="321" width="5" height="13" fill="#ff0000"/><rect x="867" y="322" width="3" height="11" fill="#ff4500"/><rect x="876" y="309" width="1" height="26" fill="#32cd32"/><rect x="874" y="321" width="5" height="7" fill="#32cd32"/><rect x="884" y="327" width="1" height="16" fill="#32cd32"/><rect x="882" y="327" width="5" height="15" fill="#32cd32"/><rect x="892" y="335" width="1" height="21" fill="#ff0000"/><rect x="890" y="335" width="5" height="6" fill="#ff0000"/><rect x="891" y="336" width="3" height="4" fill="#ff4500"/><rect x="900" y="321" width="1" height="32" fill="#32cd32"/><rect x="898" y="335" width="5" height="18" fill="#32cd32"/><rect x="908" y="350" width="1" height="51" fill="#32cd32"/><rect x="906" y="352" width="5" height="46" fill="#32cd32"/><rect x="629" y="279" width="337" height="2" fill="#ff3a3a"/><rect x="637" y="357" width="328" height="2" fill="#8cc800"/><rect x="684" y="435" width="289" height="2" fill="#2184dc"/></g><g clip-path="url(#cr)" shape-rendering="crispEdges"><line x1="5" y1="472.5" x2="1154" y2="472.5" stroke="#c0c0c0" stroke-width="1" stroke-dasharray="3 3"/><line x1="5" y1="502.5" x2="1154" y2="502.5" stroke="#c0c0c0" stroke-width="1" stroke-dasharray="3 3"/><path d="M8 481h2v1h-2zM30 481h4v1h-4zM38 481h4v1h-4zM208 481h6v1h-6zM223 481h2v1h-2zM328 481h5v1h-5zM5 483h2v1h-2zM201 483h2v1h-2zM227 483h5v1h-5zM304 483h6v1h-6zM321 483h2v1h-2zM334 483h2v1h-2zM346 483h2v1h-2zM350 483h4v1h-4zM843 483h2v1h-2zM629 506h2v1h-2zM656 506h13v1h-13zM766 506h4v1h-4zM154 493h2v1h-2zM388 493h17v1h-17zM427 493h5v1h-5zM544 493h6v1h-6zM569 493h2v1h-2zM584 493h3v1h-3zM702 493h2v1h-2zM711 493h2v1h-2zM789 493h2v1h-2zM901 493h2v1h-2zM160 495h5v1h-5zM384 495h2v1h-2zM554 495h6v1h-6zM565 495h2v1h-2zM592 495h5v1h-5zM688 495h3v1h-3zM715 495h5v1h-5zM780 495h4v1h-4zM904 495h2v1h-2zM172 488h18v1h-18zM246 488h4v1h-4zM264 488h3v1h-3zM283 488h10v1h-10zM416 488h3v1h-3zM443 488h13v1h-13zM485 488h2v1h-2zM507 488h5v1h-5zM816 488h8v1h-8zM850 488h2v1h-2zM862 488h4v1h-4zM872 488h6v1h-6zM168 491h2v1h-2zM423 491h2v1h-2zM437 491h2v1h-2zM520 491h3v1h-3zM576 491h6v1h-6zM707 491h2v1h-2zM792 491h2v1h-2zM802 491h4v1h-4zM896 491h3v1h-3zM34 482h4v1h-4zM203 482h5v1h-5zM225 482h2v1h-2zM323 482h5v1h-5zM348 482h2v1h-2zM370 501h2v1h-2zM373 501h2v1h-2zM618 501h2v1h-2zM732 501h4v1h-4zM744 501h8v1h-8zM56 478h2v1h-2zM70 478h4v1h-4zM80 478h6v1h-6zM150 490h2v1h-2zM256 490h6v1h-6zM421 490h2v1h-2zM439 490h2v1h-2zM472 490h8v1h-8zM518 490h2v1h-2zM794 490h2v1h-2zM798 490h4v1h-4zM806 490h4v1h-4zM882 490h6v1h-6zM894 490h2v1h-2zM425 492h2v1h-2zM432 492h5v1h-5zM523 492h21v1h-21zM571 492h5v1h-5zM582 492h2v1h-2zM704 492h3v1h-3zM709 492h2v1h-2zM899 492h2v1h-2zM190 487h4v1h-4zM243 487h3v1h-3zM267 487h3v1h-3zM280 487h3v1h-3zM293 487h2v1h-2zM414 487h2v1h-2zM487 487h2v1h-2zM505 487h2v1h-2zM824 487h13v1h-13zM866 487h6v1h-6zM250 489h6v1h-6zM262 489h2v1h-2zM408 489h2v1h-2zM419 489h2v1h-2zM441 489h2v1h-2zM456 489h16v1h-16zM480 489h5v1h-5zM512 489h6v1h-6zM796 489h2v1h-2zM810 489h6v1h-6zM852 489h10v1h-10zM878 489h4v1h-4zM888 489h6v1h-6zM633 508h2v1h-2zM646 508h4v1h-4zM197 485h2v1h-2zM238 485h2v1h-2zM274 485h4v1h-4zM297 485h2v1h-2zM312 485h3v1h-3zM317 485h2v1h-2zM491 485h5v1h-5zM501 485h2v1h-2zM839 485h2v1h-2zM846 485h2v1h-2zM194 486h3v1h-3zM240 486h3v1h-3zM270 486h4v1h-4zM278 486h2v1h-2zM295 486h2v1h-2zM315 486h2v1h-2zM338 486h2v1h-2zM341 486h2v1h-2zM412 486h2v1h-2zM489 486h2v1h-2zM503 486h2v1h-2zM837 486h2v1h-2zM156 494h4v1h-4zM386 494h2v1h-2zM550 494h4v1h-4zM567 494h2v1h-2zM587 494h5v1h-5zM691 494h11v1h-11zM713 494h2v1h-2zM720 494h5v1h-5zM784 494h5v1h-5zM48 477h2v1h-2zM74 477h6v1h-6zM86 477h4v1h-4zM104 477h14v1h-14zM123 474h13v1h-13zM381 497h2v1h-2zM599 497h2v1h-2zM608 497h3v1h-3zM676 497h10v1h-10zM12 479h12v1h-12zM45 479h2v1h-2zM58 479h2v1h-2zM64 479h6v1h-6zM218 479h3v1h-3zM10 480h2v1h-2zM24 480h6v1h-6zM42 480h3v1h-3zM60 480h4v1h-4zM214 480h4v1h-4zM221 480h2v1h-2zM631 507h2v1h-2zM650 507h6v1h-6zM770 507h3v1h-3zM620 502h2v1h-2zM736 502h8v1h-8zM752 502h6v1h-6zM136 473h5v1h-5zM50 476h2v1h-2zM53 476h2v1h-2zM90 476h14v1h-14zM118 476h2v1h-2zM365 498h2v1h-2zM379 498h2v1h-2zM601 498h2v1h-2zM606 498h2v1h-2zM614 498h2v1h-2zM728 498h2v1h-2zM199 484h2v1h-2zM232 484h6v1h-6zM299 484h5v1h-5zM310 484h2v1h-2zM319 484h2v1h-2zM344 484h2v1h-2zM354 484h3v1h-3zM496 484h5v1h-5zM841 484h2v1h-2zM635 509h11v1h-11zM560 496h5v1h-5zM597 496h2v1h-2zM611 496h2v1h-2zM686 496h2v1h-2zM906 496h2v1h-2zM622 503h2v1h-2zM758 503h2v1h-2zM368 500h2v1h-2zM375 500h2v1h-2zM377 499h2v1h-2zM603 499h3v1h-3zM624 504h3v1h-3zM760 504h3v1h-3zM627 505h2v1h-2zM763 505h3v1h-3zM120 475h3v1h-3zM358 487h1v2h-1zM383 496h1v1h-1zM406 491h1v1h-1zM407 490h1v1h-1zM849 487h1v1h-1zM141 474h1v2h-1zM147 486h1v2h-1zM55 477h1v1h-1zM362 493h1v2h-1zM410 488h1v1h-1zM148 488h1v1h-1zM359 489h1v1h-1zM730 499h1v1h-1zM145 482h1v2h-1zM149 489h1v1h-1zM731 500h1v1h-1zM142 476h1v2h-1zM143 478h1v2h-1zM343 485h1v1h-1zM360 490h1v2h-1zM848 486h1v1h-1zM777 499h1v2h-1zM779 496h1v2h-1zM616 499h1v1h-1zM411 487h1v1h-1zM357 485h1v2h-1zM4 484h1v1h-1zM903 494h1v1h-1zM336 484h1v1h-1zM367 499h1v1h-1zM405 492h1v1h-1zM363 495h1v2h-1zM337 485h1v1h-1zM144 480h1v2h-1zM773 505h1v2h-1zM166 493h1v1h-1zM775 502h1v2h-1zM675 498h1v1h-1zM165 494h1v1h-1zM774 504h1v1h-1zM671 503h1v1h-1zM673 500h1v1h-1zM672 501h1v2h-1zM674 499h1v1h-1zM725 495h1v1h-1zM669 505h1v1h-1zM670 504h1v1h-1zM845 484h1v1h-1zM908 497h1v1h-1zM372 502h1v1h-1zM726 496h1v1h-1zM361 492h1v1h-1zM52 475h1v1h-1zM364 497h1v1h-1zM617 500h1v1h-1zM146 484h1v2h-1zM167 492h1v1h-1zM7 482h1v1h-1zM727 497h1v1h-1zM340 487h1v1h-1zM152 491h1v1h-1zM171 489h1v1h-1zM170 490h1v1h-1zM153 492h1v1h-1zM776 501h1v1h-1zM791 492h1v1h-1zM613 497h1v1h-1zM333 482h1v1h-1zM47 478h1v1h-1zM778 498h1v1h-1z" fill="#1e90ff"/></g><g clip-path="url(#cd)" shape-rendering="crispEdges"><rect x="3" y="537" width="3" height="24" fill="#c0c0c0"/><rect x="11" y="537" width="3" height="24" fill="#c0c0c0"/><rect x="19" y="537" width="3" height="24" fill="#c0c0c0"/><rect x="27" y="537" width="3" height="24" fill="#c0c0c0"/><rect x="35" y="537" width="3" height="24" fill="#c0c0c0"/><rect x="43" y="537" width="3" height="24" fill="#c0c0c0"/><rect x="51" y="537" width="3" height="24" fill="#c0c0c0"/><rect x="59" y="537" width="3" height="24" fill="#c0c0c0"/><rect x="67" y="536" width="3" height="25" fill="#c0c0c0"/><rect x="75" y="536" width="3" height="25" fill="#c0c0c0"/><rect x="83" y="536" width="3" height="25" fill="#c0c0c0"/><rect x="91" y="536" width="3" height="25" fill="#c0c0c0"/><rect x="99" y="536" width="3" height="25" fill="#c0c0c0"/><rect x="107" y="535" width="3" height="26" fill="#c0c0c0"/><rect x="115" y="535" width="3" height="26" fill="#c0c0c0"/><rect x="123" y="535" width="3" height="26" fill="#c0c0c0"/><rect x="131" y="535" width="3" height="26" fill="#c0c0c0"/><rect x="139" y="534" width="3" height="27" fill="#c0c0c0"/><rect x="147" y="539" width="3" height="22" fill="#c0c0c0"/><rect x="155" y="545" width="3" height="16" fill="#c0c0c0"/><rect x="163" y="551" width="3" height="10" fill="#c0c0c0"/><rect x="171" y="553" width="3" height="8" fill="#c0c0c0"/><rect x="179" y="555" width="3" height="6" fill="#c0c0c0"/><rect x="187" y="557" width="3" height="4" fill="#c0c0c0"/><rect x="195" y="557" width="3" height="4" fill="#c0c0c0"/><rect x="203" y="555" width="3" height="6" fill="#c0c0c0"/><rect x="211" y="554" width="3" height="7" fill="#c0c0c0"/><rect x="219" y="551" width="3" height="10" fill="#c0c0c0"/><rect x="227" y="550" width="3" height="11" fill="#c0c0c0"/><rect x="235" y="551" width="3" height="10" fill="#c0c0c0"/><rect x="243" y="552" width="3" height="9" fill="#c0c0c0"/><rect x="251" y="555" width="3" height="6" fill="#c0c0c0"/><rect x="259" y="557" width="3" height="4" fill="#c0c0c0"/><rect x="267" y="558" width="3" height="3" fill="#c0c0c0"/><rect x="275" y="557" width="3" height="4" fill="#c0c0c0"/><rect x="283" y="558" width="3" height="3" fill="#c0c0c0"/><rect x="291" y="559" width="3" height="2" fill="#c0c0c0"/><rect x="299" y="558" width="3" height="3" fill="#c0c0c0"/><rect x="307" y="558" width="3" height="3" fill="#c0c0c0"/><rect x="315" y="558" width="3" height="3" fill="#c0c0c0"/><rect x="323" y="556" width="3" height="5" fill="#c0c0c0"/><rect x="331" y="554" width="3" height="7" fill="#c0c0c0"/><rect x="339" y="555" width="3" height="6" fill="#c0c0c0"/><rect x="347" y="554" width="3" height="7" fill="#c0c0c0"/><rect x="355" y="554" width="3" height="7" fill="#c0c0c0"/><rect x="363" y="561" width="3" height="1" fill="#c0c0c0"/><rect x="371" y="561" width="3" height="11" fill="#c0c0c0"/><rect x="379" y="561" width="3" height="17" fill="#c0c0c0"/><rect x="387" y="561" width="3" height="18" fill="#c0c0c0"/><rect x="395" y="561" width="3" height="19" fill="#c0c0c0"/><rect x="403" y="561" width="3" height="20" fill="#c0c0c0"/><rect x="411" y="561" width="3" height="17" fill="#c0c0c0"/><rect x="419" y="561" width="3" height="16" fill="#c0c0c0"/><rect x="427" y="561" width="3" height="18" fill="#c0c0c0"/><rect x="435" y="561" width="3" height="18" fill="#c0c0c0"/><rect x="443" y="561" width="3" height="16" fill="#c0c0c0"/><rect x="451" y="561" width="3" height="14" fill="#c0c0c0"/><rect x="459" y="561" width="3" height="13" fill="#c0c0c0"/><rect x="467" y="561" width="3" height="12" fill="#c0c0c0"/><rect x="475" y="561" width="3" height="12" fill="#c0c0c0"/><rect x="483" y="561" width="3" height="11" fill="#c0c0c0"/><rect x="491" y="561" width="3" height="9" fill="#c0c0c0"/><rect x="499" y="561" width="3" height="6" fill="#c0c0c0"/><rect x="507" y="561" width="3" height="6" fill="#c0c0c0"/><rect x="515" y="561" width="3" height="6" fill="#c0c0c0"/><rect x="523" y="561" width="3" height="7" fill="#c0c0c0"/><rect x="531" y="561" width="3" height="8" fill="#c0c0c0"/><rect x="539" y="561" width="3" height="10" fill="#c0c0c0"/><rect x="547" y="561" width="3" height="10" fill="#c0c0c0"/><rect x="555" y="561" width="3" height="12" fill="#c0c0c0"/><rect x="563" y="561" width="3" height="14" fill="#c0c0c0"/><rect x="571" y="561" width="3" height="14" fill="#c0c0c0"/><rect x="579" y="561" width="3" height="13" fill="#c0c0c0"/><rect x="587" y="561" width="3" height="14" fill="#c0c0c0"/><rect x="595" y="561" width="3" height="15" fill="#c0c0c0"/><rect x="603" y="561" width="3" height="17" fill="#c0c0c0"/><rect x="611" y="561" width="3" height="18" fill="#c0c0c0"/><rect x="619" y="561" width="3" height="22" fill="#c0c0c0"/><rect x="627" y="561" width="3" height="29" fill="#c0c0c0"/><rect x="635" y="561" width="3" height="37" fill="#c0c0c0"/><rect x="643" y="561" width="3" height="43" fill="#c0c0c0"/><rect x="651" y="561" width="3" height="46" fill="#c0c0c0"/><rect x="659" y="561" width="3" height="48" fill="#c0c0c0"/><rect x="667" y="561" width="3" height="49" fill="#c0c0c0"/><rect x="675" y="561" width="3" height="47" fill="#c0c0c0"/><rect x="683" y="561" width="3" height="44" fill="#c0c0c0"/><rect x="691" y="561" width="3" height="41" fill="#c0c0c0"/><rect x="699" y="561" width="3" height="38" fill="#c0c0c0"/><rect x="707" y="561" width="3" height="34" fill="#c0c0c0"/><rect x="715" y="561" width="3" height="32" fill="#c0c0c0"/><rect x="723" y="561" width="3" height="29" fill="#c0c0c0"/><rect x="731" y="561" width="3" height="33" fill="#c0c0c0"/><rect x="739" y="561" width="3" height="34" fill="#c0c0c0"/><rect x="747" y="561" width="3" height="35" fill="#c0c0c0"/><rect x="755" y="561" width="3" height="37" fill="#c0c0c0"/><rect x="763" y="561" width="3" height="39" fill="#c0c0c0"/><rect x="771" y="561" width="3" height="44" fill="#c0c0c0"/><rect x="779" y="561" width="3" height="41" fill="#c0c0c0"/><rect x="787" y="561" width="3" height="39" fill="#c0c0c0"/><rect x="795" y="561" width="3" height="34" fill="#c0c0c0"/><rect x="803" y="561" width="3" height="30" fill="#c0c0c0"/><rect x="811" y="561" width="3" height="28" fill="#c0c0c0"/><rect x="819" y="561" width="3" height="24" fill="#c0c0c0"/><rect x="827" y="561" width="3" height="20" fill="#c0c0c0"/><rect x="835" y="561" width="3" height="17" fill="#c0c0c0"/><rect x="843" y="561" width="3" height="13" fill="#c0c0c0"/><rect x="851" y="561" width="3" height="12" fill="#c0c0c0"/><rect x="859" y="561" width="3" height="11" fill="#c0c0c0"/><rect x="867" y="561" width="3" height="9" fill="#c0c0c0"/><rect x="875" y="561" width="3" height="8" fill="#c0c0c0"/><rect x="883" y="561" width="3" height="8" fill="#c0c0c0"/><rect x="891" y="561" width="3" height="8" fill="#c0c0c0"/><rect x="899" y="561" width="3" height="9" fill="#c0c0c0"/><rect x="907" y="561" width="3" height="13" fill="#c0c0c0"/><text x="7.93" y="539.50" font-size="10" textLength="154.18" lengthAdjust="spacingAndGlyphs" fill="#000" stroke="#000" stroke-width="0.12">MACD(12,26,9) -0.008990 -0.006776</text><path d="M14 538h56v1h-56zM168 538h4v1h-4zM389 563h3v1h-3zM223 554h20v1h-20zM272 554h12v1h-12zM295 556h8v1h-8zM346 556h23v1h-23zM303 557h43v1h-43zM369 557h5v1h-5zM418 571h4v1h-4zM505 571h4v1h-4zM575 571h13v1h-13zM893 571h12v1h-12zM202 549h4v1h-4zM432 575h3v1h-3zM475 575h10v1h-10zM618 575h5v1h-5zM878 575h4v1h-4zM674 596h3v1h-3zM745 596h8v1h-8zM778 596h7v1h-7zM815 596h4v1h-4zM435 576h4v1h-4zM465 576h10v1h-10zM623 576h5v1h-5zM873 576h5v1h-5zM667 593h2v1h-2zM827 593h4v1h-4zM413 570h5v1h-5zM509 570h6v1h-6zM568 570h7v1h-7zM905 570h4v1h-4zM110 534h35v1h-35zM672 595h2v1h-2zM753 595h25v1h-25zM819 595h4v1h-4zM637 580h2v1h-2zM861 580h2v1h-2zM409 569h4v1h-4zM515 569h10v1h-10zM563 569h5v1h-5zM6 539h8v1h-8zM172 539h3v1h-3zM693 603h5v1h-5zM705 603h8v1h-8zM429 574h3v1h-3zM485 574h10v1h-10zM613 574h5v1h-5zM882 574h3v1h-3zM677 597h2v1h-2zM738 597h7v1h-7zM785 597h8v1h-8zM798 597h17v1h-17zM439 577h4v1h-4zM453 577h12v1h-12zM628 577h4v1h-4zM869 577h4v1h-4zM682 599h2v1h-2zM728 599h5v1h-5zM95 535h15v1h-15zM145 535h10v1h-10zM679 598h3v1h-3zM733 598h5v1h-5zM793 598h5v1h-5zM642 582h2v1h-2zM856 582h3v1h-3zM218 553h5v1h-5zM243 553h29v1h-29zM669 594h3v1h-3zM823 594h4v1h-4zM385 562h4v1h-4zM405 568h4v1h-4zM525 568h38v1h-38zM698 604h7v1h-7zM663 591h2v1h-2zM835 591h2v1h-2zM422 572h3v1h-3zM502 572h3v1h-3zM588 572h15v1h-15zM889 572h4v1h-4zM657 588h2v1h-2zM841 588h3v1h-3zM206 550h4v1h-4zM689 602h4v1h-4zM713 602h5v1h-5zM70 537h15v1h-15zM163 537h5v1h-5zM665 592h2v1h-2zM831 592h4v1h-4zM189 545h3v1h-3zM659 589h2v1h-2zM839 589h2v1h-2zM210 551h4v1h-4zM649 585h3v1h-3zM849 585h3v1h-3zM647 584h2v1h-2zM852 584h2v1h-2zM443 578h10v1h-10zM632 578h2v1h-2zM866 578h3v1h-3zM392 564h3v1h-3zM284 555h11v1h-11zM652 586h2v1h-2zM846 586h3v1h-3zM661 590h2v1h-2zM837 590h2v1h-2zM184 543h3v1h-3zM85 536h10v1h-10zM155 536h8v1h-8zM425 573h4v1h-4zM495 573h7v1h-7zM603 573h10v1h-10zM885 573h4v1h-4zM654 587h3v1h-3zM844 587h2v1h-2zM4 540h2v1h-2zM175 540h4v1h-4zM179 541h3v1h-3zM214 552h4v1h-4zM395 565h4v1h-4zM399 566h3v1h-3zM192 546h3v1h-3zM684 600h3v1h-3zM723 600h5v1h-5zM634 579h3v1h-3zM863 579h3v1h-3zM374 558h2v1h-2zM187 544h2v1h-2zM639 581h3v1h-3zM859 581h2v1h-2zM687 601h2v1h-2zM718 601h5v1h-5zM376 559h3v1h-3zM402 567h3v1h-3zM195 547h4v1h-4zM199 548h3v1h-3zM379 560h3v1h-3zM644 583h3v1h-3zM854 583h2v1h-2zM382 561h3v1h-3zM182 542h2v1h-2z" fill="#ff0000"/></g><polygon points="7,39 14,39 10.5,43" fill="#000"/><text x="18.86" y="43.90" font-size="10" textLength="64.65" lengthAdjust="spacingAndGlyphs" fill="#000" stroke="#000" stroke-width="0.12">USDCNH,Daily</text><text x="90.83" y="43.90" font-size="10" textLength="141.13" lengthAdjust="spacingAndGlyphs" fill="#000" stroke="#000" stroke-width="0.12">6.76175 6.76387 6.72667 6.72882</text><text x="7.53" y="460.90" font-size="10" textLength="68.68" lengthAdjust="spacingAndGlyphs" fill="#000" stroke="#000" stroke-width="0.12">RSI(14) 35.4026</text><text x="1159.63" y="51.00" font-size="10" textLength="33.74" lengthAdjust="spacingAndGlyphs" fill="#000" stroke="#000" stroke-width="0.12">6.98360</text><text x="1159.63" y="84.00" font-size="10" textLength="33.74" lengthAdjust="spacingAndGlyphs" fill="#000" stroke="#000" stroke-width="0.12">6.95980</text><text x="1159.63" y="117.00" font-size="10" textLength="33.74" lengthAdjust="spacingAndGlyphs" fill="#000" stroke="#000" stroke-width="0.12">6.93530</text><text x="1159.63" y="150.00" font-size="10" textLength="33.74" lengthAdjust="spacingAndGlyphs" fill="#000" stroke="#000" stroke-width="0.12">6.91150</text><text x="1159.63" y="183.00" font-size="10" textLength="33.74" lengthAdjust="spacingAndGlyphs" fill="#000" stroke="#000" stroke-width="0.12">6.88770</text><text x="1159.63" y="216.00" font-size="10" textLength="33.74" lengthAdjust="spacingAndGlyphs" fill="#000" stroke="#000" stroke-width="0.12">6.86320</text><text x="1159.63" y="249.00" font-size="10" textLength="33.74" lengthAdjust="spacingAndGlyphs" fill="#000" stroke="#000" stroke-width="0.12">6.83940</text><text x="1159.63" y="282.00" font-size="10" textLength="33.74" lengthAdjust="spacingAndGlyphs" fill="#000" stroke="#000" stroke-width="0.12">6.81560</text><text x="1159.63" y="315.00" font-size="10" textLength="33.74" lengthAdjust="spacingAndGlyphs" fill="#000" stroke="#000" stroke-width="0.12">6.79180</text><text x="1159.63" y="348.00" font-size="10" textLength="33.74" lengthAdjust="spacingAndGlyphs" fill="#000" stroke="#000" stroke-width="0.12">6.76730</text><text x="1159.63" y="381.00" font-size="10" textLength="33.74" lengthAdjust="spacingAndGlyphs" fill="#000" stroke="#000" stroke-width="0.12">6.74350</text><text x="1159.63" y="414.00" font-size="10" textLength="33.74" lengthAdjust="spacingAndGlyphs" fill="#000" stroke="#000" stroke-width="0.12">6.71970</text><text x="1159.63" y="447.00" font-size="10" textLength="33.74" lengthAdjust="spacingAndGlyphs" fill="#000" stroke="#000" stroke-width="0.12">6.69590</text><text x="1159.52" y="400.90" font-size="10" textLength="33.85" lengthAdjust="spacingAndGlyphs" fill="#ffffff" stroke="#ffffff" stroke-width="0.12">6.72882</text><text x="1157.80" y="458.80" font-size="10" textLength="15.25" lengthAdjust="spacingAndGlyphs" fill="#000" stroke="#000" stroke-width="0.12">100</text><text x="1156.71" y="475.70" font-size="10" textLength="10.56" lengthAdjust="spacingAndGlyphs" fill="#000" stroke="#000" stroke-width="0.12">70</text><text x="1156.64" y="505.80" font-size="10" textLength="10.64" lengthAdjust="spacingAndGlyphs" fill="#000" stroke="#000" stroke-width="0.12">30</text><text x="1157.82" y="521.80" font-size="10" textLength="5.47" lengthAdjust="spacingAndGlyphs" fill="#000" stroke="#000" stroke-width="0.12">0</text><text x="1157.54" y="538.10" font-size="10" textLength="38.43" lengthAdjust="spacingAndGlyphs" fill="#000" stroke="#000" stroke-width="0.12">0.023534</text><text x="1157.53" y="564.70" font-size="10" textLength="18.54" lengthAdjust="spacingAndGlyphs" fill="#000" stroke="#000" stroke-width="0.12">0.00</text><text x="1157.57" y="610.90" font-size="10" textLength="43.35" lengthAdjust="spacingAndGlyphs" fill="#000" stroke="#000" stroke-width="0.12">-0.038466</text><text x="2.98" y="626.90" font-size="10" textLength="51.63" lengthAdjust="spacingAndGlyphs" fill="#000" stroke="#000" stroke-width="0.12">11 Oct 2018</text><text x="66.83" y="626.90" font-size="10" textLength="50.98" lengthAdjust="spacingAndGlyphs" fill="#000" stroke="#000" stroke-width="0.12">20 Oct 2018</text><text x="131.25" y="626.90" font-size="10" textLength="50.66" lengthAdjust="spacingAndGlyphs" fill="#000" stroke="#000" stroke-width="0.12">30 Oct 2018</text><text x="194.99" y="626.90" font-size="10" textLength="48.83" lengthAdjust="spacingAndGlyphs" fill="#000" stroke="#000" stroke-width="0.12">8 Nov 2018</text><text x="259.49" y="626.90" font-size="10" textLength="53.12" lengthAdjust="spacingAndGlyphs" fill="#000" stroke="#000" stroke-width="0.12">17 Nov 2018</text><text x="322.82" y="626.90" font-size="10" textLength="54.30" lengthAdjust="spacingAndGlyphs" fill="#000" stroke="#000" stroke-width="0.12">27 Nov 2018</text><text x="386.93" y="626.90" font-size="10" textLength="47.07" lengthAdjust="spacingAndGlyphs" fill="#000" stroke="#000" stroke-width="0.12">6 Dec 2018</text><text x="450.70" y="626.90" font-size="10" textLength="52.41" lengthAdjust="spacingAndGlyphs" fill="#000" stroke="#000" stroke-width="0.12">15 Dec 2018</text><text x="515.04" y="626.90" font-size="10" textLength="52.06" lengthAdjust="spacingAndGlyphs" fill="#000" stroke="#000" stroke-width="0.12">25 Dec 2018</text><text x="579.15" y="626.90" font-size="10" textLength="44.87" lengthAdjust="spacingAndGlyphs" fill="#000" stroke="#000" stroke-width="0.12">3 Jan 2019</text><text x="643.11" y="626.90" font-size="10" textLength="50.12" lengthAdjust="spacingAndGlyphs" fill="#000" stroke="#000" stroke-width="0.12">12 Jan 2019</text><text x="707.14" y="626.90" font-size="10" textLength="50.50" lengthAdjust="spacingAndGlyphs" fill="#000" stroke="#000" stroke-width="0.12">22 Jan 2019</text><text x="771.46" y="626.90" font-size="10" textLength="49.47" lengthAdjust="spacingAndGlyphs" fill="#000" stroke="#000" stroke-width="0.12">31 Jan 2019</text><text x="834.66" y="626.90" font-size="10" textLength="47.69" lengthAdjust="spacingAndGlyphs" fill="#000" stroke="#000" stroke-width="0.12">9 Feb 2019</text><text x="898.49" y="626.90" font-size="10" textLength="52.66" lengthAdjust="spacingAndGlyphs" fill="#000" stroke="#000" stroke-width="0.12">19 Feb 2019</text><text x="3.24" y="19.80" font-size="10.3" textLength="18.13" lengthAdjust="spacingAndGlyphs" fill="#383838" stroke="#383838" stroke-width="0">M30</text><text x="34.21" y="19.80" font-size="10.3" textLength="12.25" lengthAdjust="spacingAndGlyphs" fill="#383838" stroke="#383838" stroke-width="0">H1</text><text x="60.84" y="19.80" font-size="10.3" textLength="13.36" lengthAdjust="spacingAndGlyphs" fill="#383838" stroke="#383838" stroke-width="0">H4</text><text x="90.11" y="19.80" font-size="10.3" textLength="12.37" lengthAdjust="spacingAndGlyphs" fill="#383838" stroke="#383838" stroke-width="0">D1</text><text x="117.96" y="19.80" font-size="10.3" textLength="14.83" lengthAdjust="spacingAndGlyphs" fill="#383838" stroke="#383838" stroke-width="0">W1</text><text x="143.84" y="19.80" font-size="10.3" textLength="16.32" lengthAdjust="spacingAndGlyphs" fill="#383838" stroke="#383838" stroke-width="0">MN</text><g shape-rendering="crispEdges"><rect x="0" y="635" width="1199" height="1" fill="#e6e6e6"/><rect x="0" y="636" width="1199" height="1" fill="#ffffff"/><rect x="0" y="637" width="1199" height="1" fill="#000"/><rect x="0" y="638" width="1199" height="1" fill="#ffffff"/><rect x="0" y="639" width="1199" height="17" fill="#f0f0f0"/><rect x="0" y="656" width="1199" height="1" fill="#fafafa"/><rect x="0" y="660" width="1199" height="2" fill="#a0a0a0"/><rect x="0" y="638" width="1" height="18" fill="#696969"/><rect x="417" y="636" width="104" height="20" fill="#ffffff"/><rect x="417" y="637" width="1" height="19" fill="#000"/><rect x="520" y="637" width="1" height="19" fill="#000"/><rect x="417" y="655" width="104" height="1" fill="#000"/><rect x="109" y="640" width="1" height="14" fill="#696969"/><rect x="213" y="640" width="1" height="14" fill="#696969"/><rect x="313" y="640" width="1" height="14" fill="#696969"/><rect x="633" y="640" width="1" height="14" fill="#696969"/><rect x="737" y="640" width="1" height="14" fill="#696969"/><rect x="842" y="640" width="1" height="14" fill="#696969"/><rect x="929" y="640" width="1" height="14" fill="#696969"/><rect x="1034" y="640" width="1" height="14" fill="#696969"/><rect x="1101" y="640" width="1" height="14" fill="#696969"/><polygon points="1173,643 1173,650 1169.5,646.5" fill="#a0a0a0"/><polygon points="1189,643 1189,650 1192.5,646.5" fill="#000"/></g><text x="16.42" y="651.90" font-size="12.3" textLength="80.61" lengthAdjust="spacingAndGlyphs" fill="#6d6d6d" stroke="#6d6d6d" stroke-width="0.05">EURUSD,Daily</text><text x="119.98" y="651.90" font-size="12.3" textLength="82.05" lengthAdjust="spacingAndGlyphs" fill="#6d6d6d" stroke="#6d6d6d" stroke-width="0.05">AUDUSD,Daily</text><text x="222.58" y="651.90" font-size="12.3" textLength="79.44" lengthAdjust="spacingAndGlyphs" fill="#6d6d6d" stroke="#6d6d6d" stroke-width="0.05">USDCHF,Daily</text><text x="323.06" y="651.90" font-size="12.3" textLength="81.96" lengthAdjust="spacingAndGlyphs" fill="#6d6d6d" stroke="#6d6d6d" stroke-width="0.05">USDCAD,Daily</text><text x="426.55" y="651.90" font-size="12.3" textLength="83.47" lengthAdjust="spacingAndGlyphs" fill="#000000" stroke="#000000" stroke-width="0.05">USDCNH,Daily</text><text x="531.28" y="651.90" font-size="12.3" textLength="89.44" lengthAdjust="spacingAndGlyphs" fill="#6d6d6d" stroke="#6d6d6d" stroke-width="0.05">USDJPY,Weekly</text><text x="643.63" y="651.90" font-size="12.3" textLength="81.20" lengthAdjust="spacingAndGlyphs" fill="#6d6d6d" stroke="#6d6d6d" stroke-width="0.05">XAUUSD,Daily</text><text x="748.60" y="651.90" font-size="12.3" textLength="80.53" lengthAdjust="spacingAndGlyphs" fill="#6d6d6d" stroke="#6d6d6d" stroke-width="0.05">GBPUSD,Daily</text><text x="852.94" y="651.90" font-size="12.3" textLength="63.87" lengthAdjust="spacingAndGlyphs" fill="#6d6d6d" stroke="#6d6d6d" stroke-width="0.05">SP500,M15</text><text x="940.60" y="651.90" font-size="12.3" textLength="80.53" lengthAdjust="spacingAndGlyphs" fill="#6d6d6d" stroke="#6d6d6d" stroke-width="0.05">GBPUSD,Daily</text><text x="1042.59" y="651.90" font-size="12.3" textLength="47.77" lengthAdjust="spacingAndGlyphs" fill="#6d6d6d" stroke="#6d6d6d" stroke-width="0.05">DJ30,H4</text><g clip-path="url(#tclip)"><text x="1110.84" y="651.90" font-size="12.3" textLength="78.78" lengthAdjust="spacingAndGlyphs" fill="#6d6d6d" stroke="#6d6d6d" stroke-width="0.05">TECH100,Daily</text></g></svg></body></html>
